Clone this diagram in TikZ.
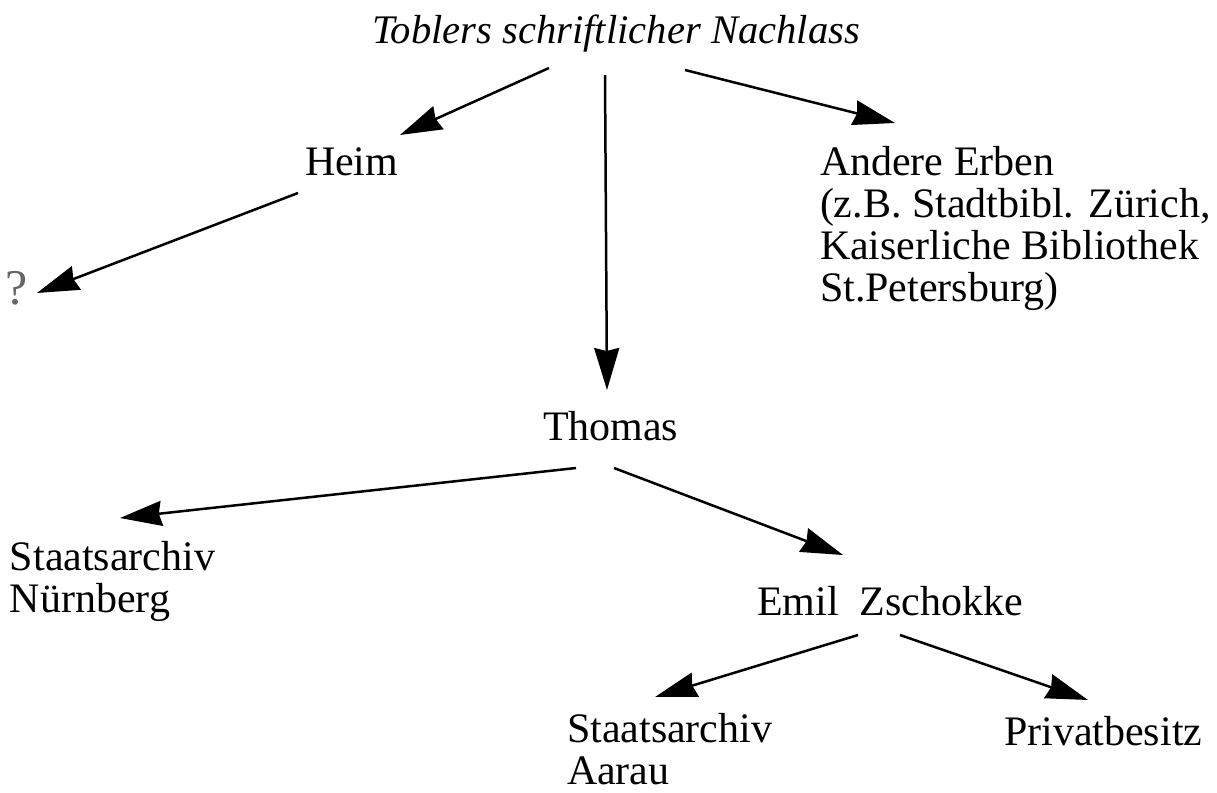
\documentclass[tikz,border=0pt]{standalone}
\usepackage{fontspec}
\setmainfont{Liberation Serif}
\usetikzlibrary{arrows.meta}
\begin{document}
\begin{tikzpicture}[x=0.5pt,y=-0.5pt,
  lbl/.style={inner sep=0pt,outer sep=0pt,font=\fontsize{21}{21}\selectfont},
  multi/.style={lbl,align=left,anchor=north west},
  arr/.style={line width=1.25pt,-{Stealth[length=21pt,width=12.5pt,inset=1.5pt]}}]
\useasboundingbox[fill=white] (0,0) rectangle (1217,793);
% nodes
\node[lbl,anchor=base,font=\fontsize{20.3}{21}\selectfont\itshape] (title) at (616,43) {Toblers schriftlicher Nachlass};
\node[lbl,anchor=base west] (heim) at (305,175) {Heim};
\node[multi] (andere) at (820,146) {Andere Erben\\(z.B. Stadtbibl. Zürich,\\Kaiserliche Bibliothek\\St.Petersburg)};
\node[lbl,anchor=base west,text=black!60,font=\fontsize{25}{25}\selectfont] (q) at (5,304) {?};
\node[lbl,anchor=base west] (thomas) at (543,440) {Thomas};
\node[multi] (nbg) at (10,541) {Staatsarchiv\\Nürnberg};
\node[lbl,anchor=base west] (emil) at (757,615) {Emil\hspace{0.5em}Zschokke};
\node[multi] (aarau) at (567,713) {Staatsarchiv\\Aarau};
\node[lbl,anchor=base west] (priv) at (1004,745) {Privatbesitz};
% connector end points
\coordinate (t1) at (549,68);  \coordinate (h1) at (400,135);
\coordinate (h2) at (298,193); \coordinate (q1) at (37,293);
\coordinate (t2) at (605,75);  \coordinate (th1) at (607,390);
\coordinate (t3) at (685,70);  \coordinate (a1) at (895,123);
\coordinate (th2) at (576,468); \coordinate (n1) at (120,518);
\coordinate (th3) at (614,468); \coordinate (e1) at (843,555);
\coordinate (e2) at (858,635); \coordinate (aa1) at (655,697);
\coordinate (e3) at (900,635); \coordinate (p1) at (1088,700);
% connectors
\draw[arr] (t1) -- (h1);
\draw[arr] (h2) -- (q1);
\draw[arr] (t2) -- (th1);
\draw[arr] (t3) -- (a1);
\draw[arr] (th2) -- (n1);
\draw[arr] (th3) -- (e1);
\draw[arr] (e2) -- (aa1);
\draw[arr] (e3) -- (p1);
\end{tikzpicture}
\end{document}
